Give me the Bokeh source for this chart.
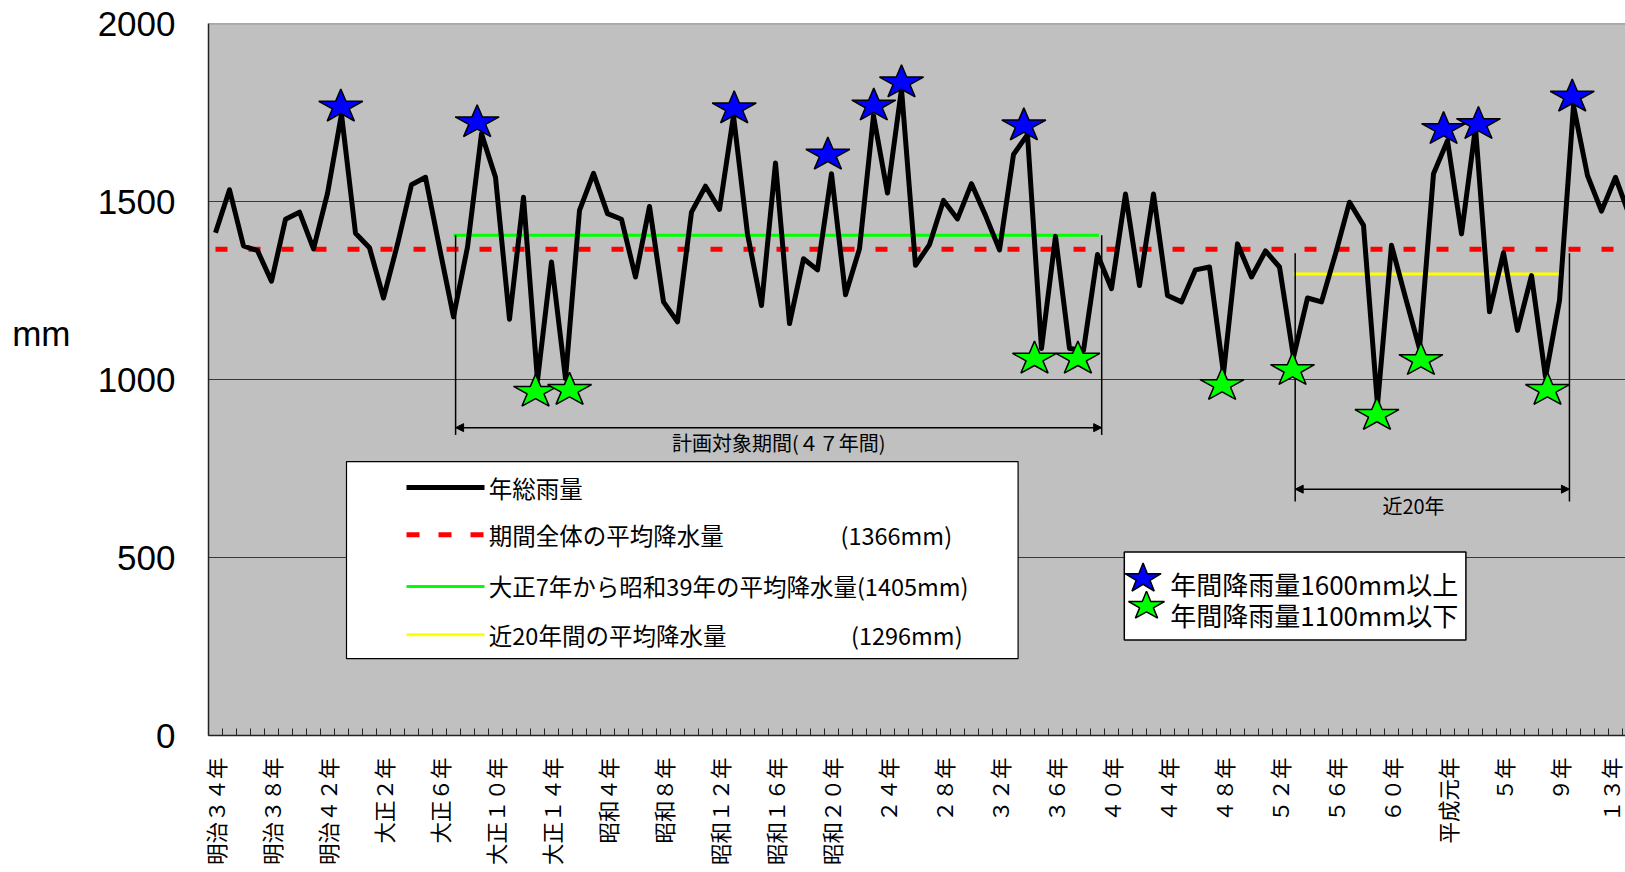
import math
from bokeh.plotting import figure
from bokeh.models import FixedTicker, Range1d, Span, Arrow, NormalHead
from bokeh.core.properties import value
from bokeh.embed import file_html
from bokeh.resources import INLINE

# ---------------- data (x = year index, 0 = 明治34年 / 1901) ----------------
rainfall = [
    1412, 1533, 1375, 1362, 1276, 1450, 1470, 1367, 1523, 1745,
    1411, 1370, 1229, 1380, 1547, 1568, 1370, 1176, 1372, 1690,
    1568, 1169, 1512, 998, 1330, 1003, 1475, 1579, 1466, 1450,
    1288, 1486, 1218, 1162, 1470, 1543, 1478, 1741, 1409, 1208,
    1608, 1157, 1339, 1308, 1578, 1238, 1367, 1741, 1524, 1816,
    1321, 1379, 1503, 1451, 1550, 1461, 1364, 1632, 1688, 1087,
    1402, 1087, 1082, 1351, 1255, 1521, 1264, 1521, 1236, 1218,
    1308, 1316, 1017, 1381, 1288, 1361, 1316, 1063, 1229, 1218,
    1353, 1498, 1433, 928, 1377, 1230, 1087, 1578, 1671, 1409,
    1708, 1190, 1356, 1138, 1292, 1007, 1222, 1769, 1573, 1473,
    1568, 1460,
]
year_index = list(range(len(rainfall)))

tick_positions = list(range(0, 101, 4))
tick_labels = ["明治３４年", "明治３８年", "明治４２年", "大正２年", "大正６年",
               "大正１０年", "大正１４年", "昭和４年", "昭和８年", "昭和１２年",
               "昭和１６年", "昭和２０年", "２４年", "２８年", "３２年", "３６年",
               "４０年", "４４年", "４８年", "５２年", "５６年", "６０年",
               "平成元年", "５年", "９年", "１３年"]
y_ticks = [0, 500, 1000, 1500, 2000]
y_unit = "mm"
y_unit_at = 1128

overall_mean = 1366          # 期間全体の平均降水量
plan_mean = 1405             # 大正7年から昭和39年
plan_start, plan_end = 17, 63
recent_mean = 1296           # 近20年間
recent_start, recent_end = 77, 96

blue_star_x = [8.95, 18.69, 37.05, 43.74, 47.02, 49.0, 57.74, 87.72, 90.21, 96.91]
blue_star_y = [1771, 1727, 1766, 1636, 1774, 1839, 1718, 1708, 1722, 1799]
green_star_x = [22.86, 25.29, 58.5, 61.6, 71.9, 76.93, 82.96, 86.1, 95.14]
green_star_y = [970, 975, 1063, 1063, 989, 1031, 905, 1059, 975]

legend_labels = ["年総雨量", "期間全体の平均降水量",
                 "大正7年から昭和39年の平均降水量(1405mm)", "近20年間の平均降水量"]
legend_values = ["(1366mm)", "(1296mm)"]
star_legend_labels = ["年間降雨量1600mm以上", "年間降雨量1100mm以下"]
plan_text = "計画対象期間(４７年間)"
recent_text = "近20年"

# ---------------- layout ----------------
W, H = 1625, 868
BL, BR, BT = 208, 0, 23
FRAME_BOTTOM = 736
BB = H - FRAME_BOTTOM
FRAME_W = W - BL - BR
FRAME_H = FRAME_BOTTOM - BT
PXX = 14.0
X0 = -0.5
X1 = X0 + FRAME_W / PXX
YMAX = 2000
PXY = FRAME_H / YMAX
PAGE_X_I0 = BL + 0.5 * PXX     # page x of index 0
PAGE_Y_0 = FRAME_BOTTOM        # page y of value 0


def px2x(px):
    return (px - PAGE_X_I0) / PXX


def px2y(py):
    return (PAGE_Y_0 - py) / PXY


JP = value("Noto Sans CJK JP")

p = figure(width=W, height=H, output_backend="svg", toolbar_location=None,
           x_range=Range1d(X0, X1), y_range=Range1d(0, YMAX),
           min_border_left=BL, min_border_right=BR, min_border_top=BT,
           min_border_bottom=BB)
p.background_fill_color = "#C0C0C0"
p.border_fill_color = "white"
p.outline_line_color = None

# axes
xax = p.xaxis[0]
xax.ticker = FixedTicker(ticks=tick_positions,
                         minor_ticks=[k - 0.5 for k in range(0, 103)])
xax.major_label_overrides = {t: lab for t, lab in zip(tick_positions, tick_labels)}
xax.major_label_orientation = math.pi / 2
xax.major_label_text_font = "Noto Sans CJK JP"
xax.major_label_text_font_size = "21.5px"
xax.major_label_text_color = "black"
xax.major_label_standoff = 22
xax.major_tick_in = 0
xax.major_tick_out = 0
xax.minor_tick_in = 7
xax.minor_tick_out = 0
xax.minor_tick_line_color = "#222222"
xax.axis_line_color = "#222222"
xax.axis_line_width = 1.5

yax = p.yaxis[0]
yax.ticker = FixedTicker(ticks=y_ticks + [y_unit_at])
yax.major_label_overrides = {y_unit_at: y_unit + "\u2003" * 3}
yax.major_label_text_font = "Liberation Sans"
yax.major_label_text_font_size = "35px"
yax.major_label_text_color = "black"
yax.major_label_standoff = 33
yax.major_tick_in = 0
yax.major_tick_out = 0
yax.minor_tick_line_color = None
yax.axis_line_color = "#222222"
yax.axis_line_width = 1.5

p.xgrid.visible = False
p.ygrid.ticker = FixedTicker(ticks=y_ticks)
p.ygrid.grid_line_color = "#383838"
p.ygrid.grid_line_width = 1

p.add_layout(Span(location=YMAX, dimension="width", line_color="#707070", line_width=1.5))

# mean lines
p.line([year_index[0], year_index[-1]], [overall_mean, overall_mean],
       line_color="#FF0000", line_width=5, line_dash="12 21")
p.line([plan_start, plan_end + 0.1], [plan_mean, plan_mean], line_color="#00FF00", line_width=3)
p.line([recent_start, recent_end], [recent_mean, recent_mean], line_color="#FFFF00", line_width=3)

# dimension lines
plan_x = [plan_start + 0.15, plan_end + 0.3]
p.segment(x0=plan_x, y0=[plan_mean] * 2, x1=plan_x, y1=[px2y(435)] * 2,
          line_color="black", line_width=1.5)
recent_x = [recent_start + 0.12, recent_end + 0.71]
p.segment(x0=recent_x, y0=[px2y(253)] * 2, x1=recent_x, y1=[px2y(501.7)] * 2,
          line_color="black", line_width=1.5)
for xs, yy in ((plan_x, px2y(427.7)), (recent_x, px2y(489.3))):
    p.add_layout(Arrow(start=NormalHead(size=8, fill_color="black", line_color="black"),
                       end=NormalHead(size=8, fill_color="black", line_color="black"),
                       x_start=xs[0], y_start=yy, x_end=xs[1], y_end=yy,
                       line_color="black", line_width=1.5))
p.text(x=[sum(plan_x) / 2], y=[px2y(443)], text=[plan_text], text_font=JP,
       text_font_size="20px", text_align="center", text_baseline="middle", text_color="black")
p.text(x=[px2x(1413)], y=[px2y(506)], text=[recent_text], text_font=JP,
       text_font_size="20px", text_align="center", text_baseline="middle", text_color="black")

# rainfall line
p.line(year_index, rainfall, line_color="black", line_width=5, line_join="round")


# stars
def star(cx, cy, w_px, h_px):
    rx = (w_px / 1.902) / PXX
    ry = (h_px / 1.809) / PXY
    cy0 = cy - 0.095 * ry
    xs, ys = [], []
    for k in range(10):
        a = math.pi / 2 + k * math.pi / 5
        f = 1.0 if k % 2 == 0 else 0.382
        xs.append(cx + rx * f * math.cos(a))
        ys.append(cy0 + ry * f * math.sin(a))
    return xs, ys


def stars(xv, yv, w, h):
    pts = [star(a, b, w, h) for a, b in zip(xv, yv)]
    return [q[0] for q in pts], [q[1] for q in pts]


bx, by = stars(blue_star_x, blue_star_y, 44, 32)
p.patches(bx, by, fill_color="#0000FF", line_color="black", line_width=1.5)
gx, gy = stars(green_star_x, green_star_y, 44, 32)
p.patches(gx, gy, fill_color="#00FF00", line_color="black", line_width=1.5)

# legend 1
p.quad(left=[px2x(346)], right=[px2x(1017.6)], top=[px2y(461.7)], bottom=[px2y(659)],
       fill_color="white", line_color="black", line_width=1.2)
rows = [px2y(487.7), px2y(535), px2y(586.7), px2y(635)]
sx0, sx1 = px2x(406), px2x(484)
p.line([sx0, sx1], [rows[0]] * 2, line_color="black", line_width=5)
p.line([sx0, sx1], [rows[1]] * 2, line_color="#FF0000", line_width=5, line_dash="13 19")
p.line([sx0, sx1], [rows[2]] * 2, line_color="#00FF00", line_width=3)
p.line([sx0, sx1], [rows[3]] * 2, line_color="#FFFF00", line_width=3)
p.text(x=[px2x(488.3)] * 4, y=rows, text=legend_labels, text_font=JP,
       text_font_size="23.5px", text_align="left", text_baseline="middle", text_color="black")
p.text(x=[px2x(840), px2x(850.5)], y=[rows[1], rows[3]], text=legend_values, text_font=JP,
       text_font_size="23.5px", text_align="left", text_baseline="middle", text_color="black")

# legend 2
p.quad(left=[px2x(1123.8)], right=[px2x(1465.4)], top=[px2y(552.3)], bottom=[px2y(640.4)],
       fill_color="white", line_color="black", line_width=1.5)
lbx, lby = stars([px2x(1142.6)], [px2y(577.3)], 36, 28)
p.patches(lbx, lby, fill_color="#0000FF", line_color="black", line_width=1.5)
lgx, lgy = stars([px2x(1146)], [px2y(605)], 36, 27)
p.patches(lgx, lgy, fill_color="#00FF00", line_color="black", line_width=1.5)
p.text(x=[px2x(1169.8)] * 2, y=[px2y(583.3), px2y(615)], text=star_legend_labels, text_font=JP,
       text_font_size="26px", text_align="left", text_baseline="middle", text_color="black")

open("out.html", "w").write(file_html(p, INLINE))
